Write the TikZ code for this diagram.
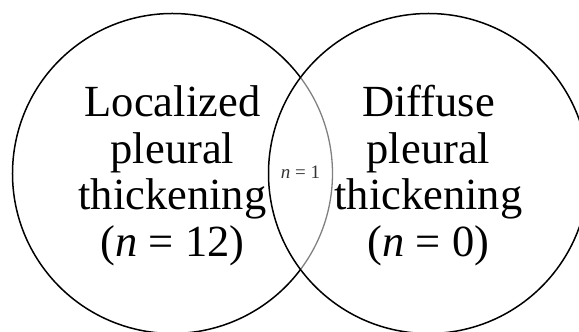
\documentclass[tikz,border=0pt]{standalone}
\usepackage{fontspec}
\setmainfont{Liberation Serif}
\begin{document}
\begin{tikzpicture}[x=1pt,y=1pt,
  circ/.style={line width=1.5pt,draw=black},
  innerarc/.style={line width=1.3pt,draw=black!50},
  big/.style={font=\fontsize{44.5}{47}\selectfont,inner sep=0pt,anchor=base},
  small/.style={font=\fontsize{19}{21}\selectfont,inner sep=0pt,text=black!80}]
\useasboundingbox (0,0) rectangle (579,332);
\clip (0,0) rectangle (579,332);
\coordinate (L) at (172.5,158.5);
\coordinate (R) at (428.5,158.5);
% left set (outer part black, part inside right set gray)
\draw[circ] ([shift={(36.87:160pt)}]L) arc[start angle=36.87,end angle=323.13,radius=160pt];
\draw[innerarc] ([shift={(-36.87:160pt)}]L) arc[start angle=-36.87,end angle=36.87,radius=160pt];
% right set
\draw[circ] (R) circle[radius=160pt];
% left labels
\node[big] (l1) at (172.5,215) {Localized};
\node[big] (l2) at (172.5,168.5) {pleural};
\node[big] (l3) at (172.5,122) {thickening};
\node[big] (l4) at (172.5,75) {(\textit{n} = 12)};
% right labels
\node[big] (r1) at (428.5,215) {Diffuse};
\node[big] (r2) at (428.5,168.5) {pleural};
\node[big] (r3) at (428.5,122) {thickening};
\node[big] (r4) at (428.5,75) {(\textit{n} = 0)};
% intersection
\node[small] (mid) at (300.5,160) {\textit{n} = 1};
\end{tikzpicture}
\end{document}
